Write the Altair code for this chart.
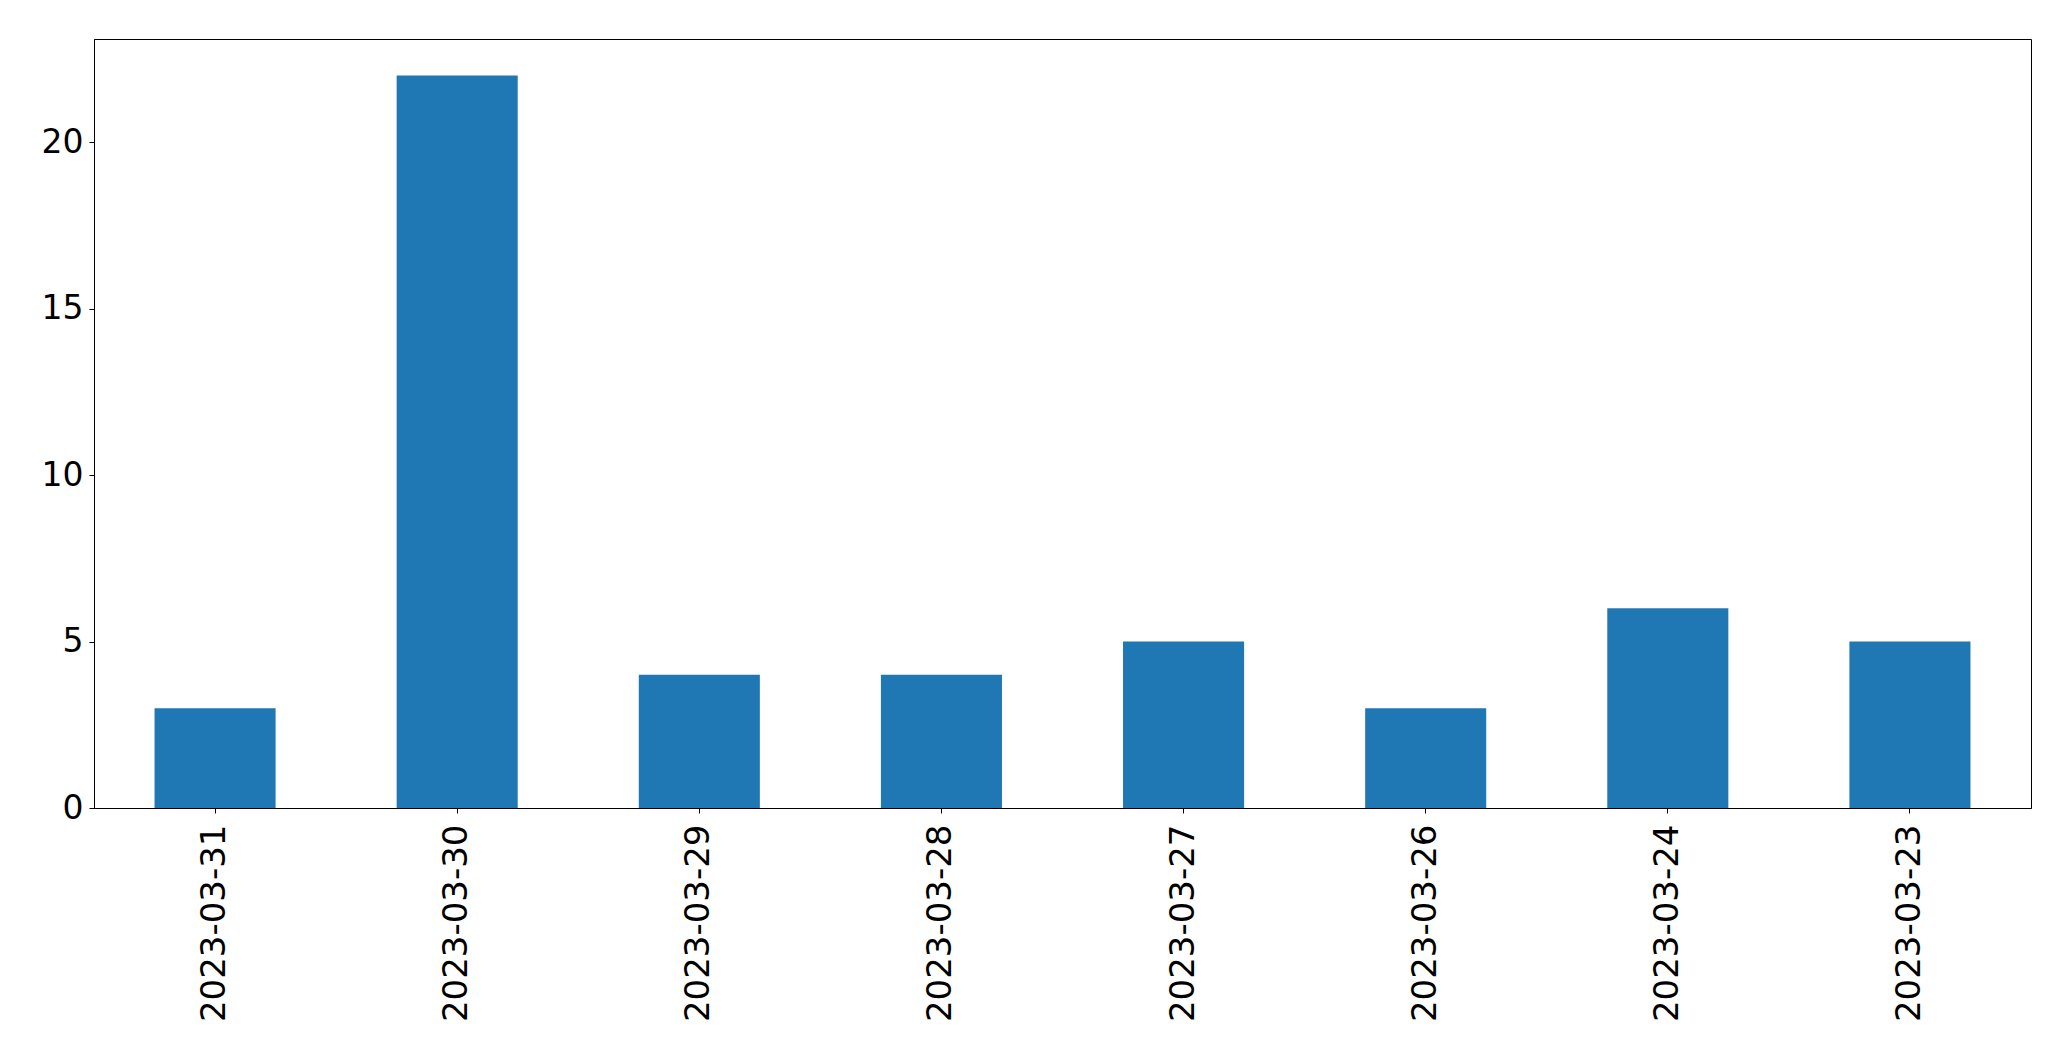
import altair as alt
import pandas as pd

dates = ["2023-03-31", "2023-03-30", "2023-03-29", "2023-03-28",
         "2023-03-27", "2023-03-26", "2023-03-24", "2023-03-23"]
counts = [3, 22, 4, 4, 5, 3, 6, 5]

df = pd.DataFrame({"date": dates, "count": counts})

font = "DejaVu Sans"

chart = alt.Chart(df).mark_bar(color="#1f77b4").encode(
    x=alt.X("date:N", sort=None, title=None,
            scale=alt.Scale(paddingInner=0.5, paddingOuter=0.25),
            axis=alt.Axis(labelAngle=270, labelFontSize=34, labelFont=font,
                          labelColor="black", tickColor="black", domainColor="black",
                          tickSize=5, labelPadding=11, grid=False, labelLimit=0)),
    y=alt.Y("count:Q", title=None,
            scale=alt.Scale(domain=[0, 23.1], nice=False, zero=True),
            axis=alt.Axis(values=[0, 5, 10, 15, 20], labelFontSize=33, labelFont=font,
                          labelColor="black", tickColor="black", domainColor="black",
                          tickSize=5, labelPadding=6, grid=False, labelLimit=0)),
).properties(
    width=1937,
    height=769,
    autosize=alt.AutoSizeParams(type="none"),
    padding={"left": 86, "top": 31, "right": 20, "bottom": 230},
).configure(
    background="white"
).configure_view(
    stroke="black", strokeWidth=1
)

chart.save("out.html", embed_options={"renderer": "svg", "actions": False})
